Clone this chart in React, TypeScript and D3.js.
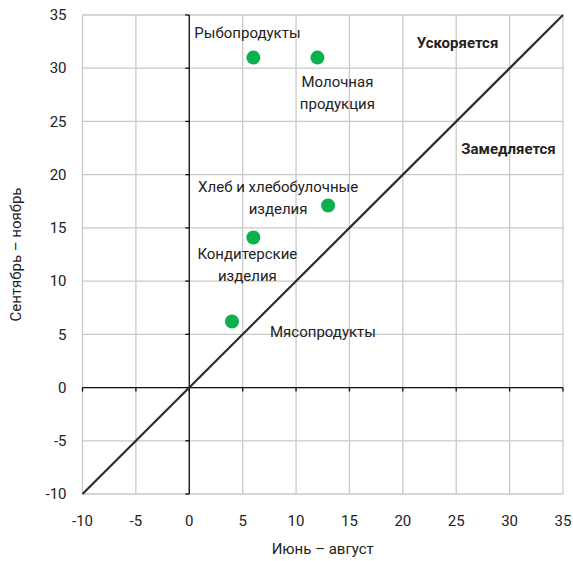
import React from 'react';
import * as d3 from 'd3';

const products = ['Рыбопродукты', 'Молочная продукция', 'Хлеб и хлебобулочные изделия', 'Кондитерские изделия', 'Мясопродукты'];
const summer = [6, 12, 13, 6, 4];
const autumn = [31, 31, 17.1, 14.1, 6.2];
const ticks = [-10, -5, 0, 5, 10, 15, 20, 25, 30, 35];

// label placement (lines, anchor, dx, dy of first line in px from the point)
const labelLayout: Record<string, { lines: string[]; anchor: string; dx: number; dy: number }> = {
  'Рыбопродукты': { lines: ['Рыбопродукты'], anchor: 'start', dx: -59, dy: -25 },
  'Молочная продукция': { lines: ['Молочная', 'продукция'], anchor: 'middle', dx: 20, dy: 24 },
  'Хлеб и хлебобулочные изделия': { lines: ['Хлеб и хлебобулочные', 'изделия'], anchor: 'middle', dx: -50, dy: -19 },
  'Кондитерские изделия': { lines: ['Кондитерские', 'изделия'], anchor: 'middle', dx: -6, dy: 16 },
  'Мясопродукты': { lines: ['Мясопродукты'], anchor: 'middle', dx: 91, dy: 10 },
};

const W = 573;
const H = 561;
const margin = { top: 15, right: 10, bottom: 67, left: 82.5 };
const font = 'Roboto, sans-serif';

export default function App() {
  const x = d3.scaleLinear().domain([-10, 35]).range([margin.left, W - margin.right]);
  const y = d3.scaleLinear().domain([-10, 35]).range([H - margin.bottom, margin.top]);
  const line = d3.line<number>().x((d) => x(d)).y((d) => y(d));

  return (
    <svg width={W} height={H} style={{ position: 'absolute', left: 0, top: 0, background: '#fff' }} fontFamily={font}>
      {ticks.map((t) => (
        <g key={'g' + t}>
          <line x1={x(t)} x2={x(t)} y1={y(-10)} y2={y(35)} stroke="#c9c9c9" strokeWidth={1.3} />
          <line x1={x(-10)} x2={x(35)} y1={y(t)} y2={y(t)} stroke="#c9c9c9" strokeWidth={1.3} />
        </g>
      ))}
      {/* axes through zero */}
      <line x1={x(0)} x2={x(0)} y1={y(-10)} y2={y(35)} stroke="#111" strokeWidth={1.3} />
      <line x1={x(-10)} x2={x(35)} y1={y(0)} y2={y(0)} stroke="#111" strokeWidth={1.3} />
      {ticks.map((t) => (
        <g key={'t' + t}>
          <line x1={x(0) - 4} x2={x(0)} y1={y(t)} y2={y(t)} stroke="#111" strokeWidth={1.3} />
          <line x1={x(t)} x2={x(t)} y1={y(0)} y2={y(0) + 4} stroke="#111" strokeWidth={1.3} />
          <text x={x(-10) - 16} y={y(t)} dy="0.35em" textAnchor="end" fontSize={15} fill="#222">{t}</text>
          <text x={x(t)} y={y(-10) + 27} dy="0.35em" textAnchor="middle" fontSize={15} fill="#222">{t}</text>
        </g>
      ))}
      <path d={line([-10, 35]) || ''} stroke="#2b2b2b" strokeWidth={2.2} fill="none" />
      {products.map((p, i) => {
        const cx = x(summer[i]);
        const cy = y(autumn[i]);
        const l = labelLayout[p];
        return (
          <g key={p}>
            <circle cx={cx} cy={cy} r={7} fill="#0cb04d" />
            {l.lines.map((s, j) => (
              <text key={j} x={cx + l.dx} y={cy + l.dy + j * 22} dy="0.35em" textAnchor={l.anchor} fontSize={15} fill="#222">{s}</text>
            ))}
          </g>
        );
      })}
      <text x={457.5} y={43} dy="0.35em" textAnchor="middle" fontSize={15} fontWeight="bold" fill="#222">Ускоряется</text>
      <text x={508.5} y={149} dy="0.35em" textAnchor="middle" fontSize={15} fontWeight="bold" fill="#222">Замедляется</text>
      <text x={(x(-10) + x(35)) / 2} y={549} dy="0.35em" textAnchor="middle" fontSize={15} fill="#222">Июнь – август</text>
      <text transform={`translate(16,${(y(-10) + y(35)) / 2}) rotate(-90)`} dy="0.35em" textAnchor="middle" fontSize={15} fill="#222">Сентябрь – ноябрь</text>
    </svg>
  );
}
